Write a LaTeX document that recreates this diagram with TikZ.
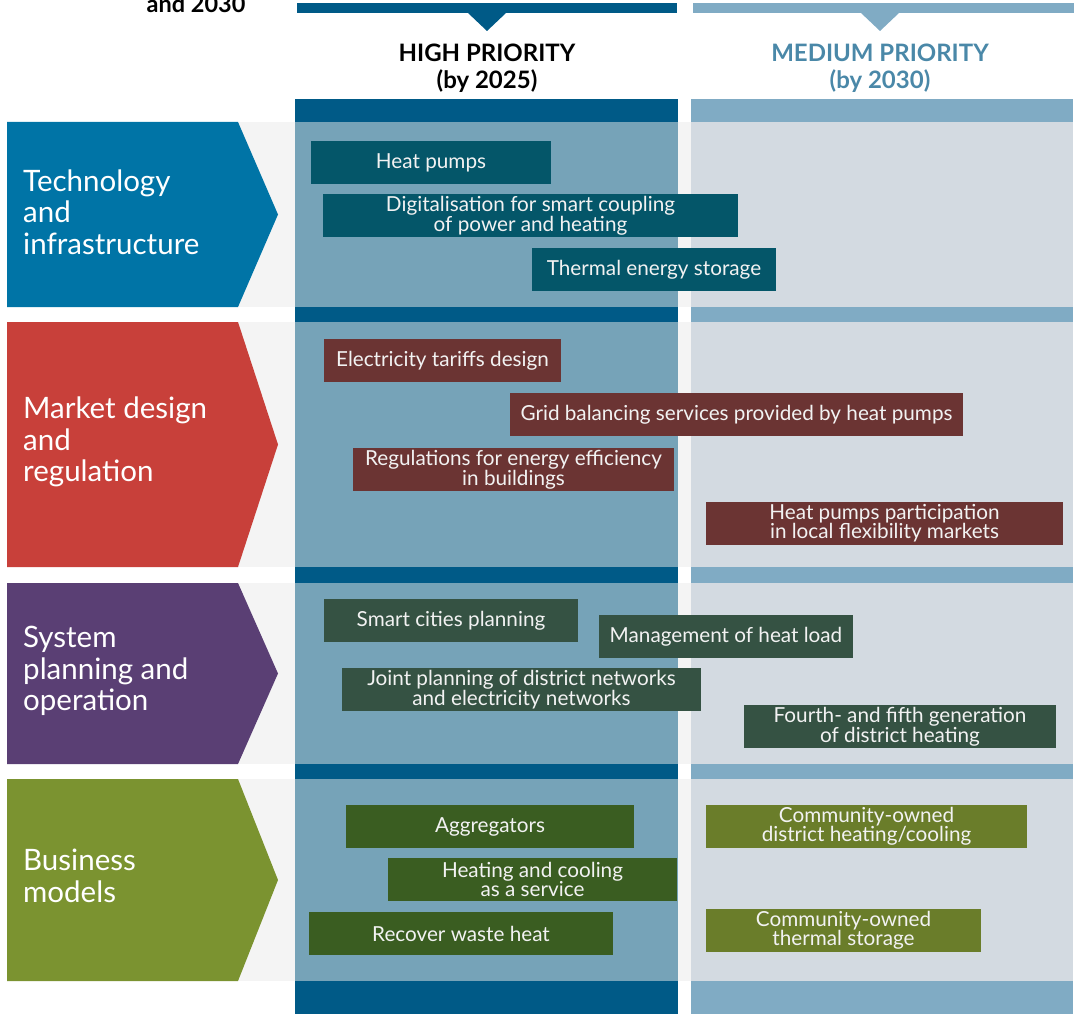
\documentclass[tikz,border=0pt]{standalone}
\usepackage{fontspec}
\setmainfont{Lato}
\usepackage{xcolor}
\usetikzlibrary{positioning}

\definecolor{techblue}{HTML}{0074A6}
\definecolor{mktred}{HTML}{C8403A}
\definecolor{syspurple}{HTML}{5A3F74}
\definecolor{busolive}{HTML}{7B9330}
\definecolor{stripgray}{HTML}{F4F4F4}
\definecolor{hicol}{HTML}{76A3B8}
\definecolor{hibar}{HTML}{005A87}
\definecolor{medcol}{HTML}{D3DAE1}
\definecolor{medbar}{HTML}{80ABC4}
\definecolor{medtext}{HTML}{4A88A8}
\definecolor{techbox}{HTML}{045669}
\definecolor{mktbox}{HTML}{6B3433}
\definecolor{sysbox}{HTML}{355243}
\definecolor{busbox}{HTML}{3A5D21}
\definecolor{busmedbox}{HTML}{6A7D2A}
\definecolor{boxtext}{HTML}{F2F2F2}

\begin{document}
\begin{tikzpicture}[x=1pt, y=-1pt,
  task/.style={rectangle, inner sep=0pt, minimum height=43pt, align=center,
    text=boxtext, font=\fontsize{20.7}{19}\selectfont},
  cat/.style={anchor=west, inner sep=0pt, align=left, text=white,
    font=\fontsize{29.5}{31.5}\selectfont},
  head/.style={inner sep=0pt, align=center, font=\fontsize{24}{27.5}\selectfont\bfseries}
]
\useasboundingbox (0,0) rectangle (1078,1014);

% Title remnant
\node[inner sep=0pt, anchor=base, font=\fontsize{23.5}{25}\selectfont\bfseries] (title) at (196,13) {and 2030};

% Column headers
\fill[hibar] (297,3) rectangle (677,13);
\fill[hibar] (468,13) -- (506,13) -- (487,31) -- cycle;
\fill[medbar] (693,3) rectangle (1074,13);
\fill[medbar] (861,13) -- (899,13) -- (880,31) -- cycle;
\coordinate (hitip) at (487,31);
\coordinate (medtip) at (880,31);
\node[head, below=12.5pt of hitip] (hihead) {HIGH PRIORITY\\(by 2025)};
\node[head, text=medtext, below=12.5pt of medtip] (medhead) {MEDIUM PRIORITY\\(by 2030)};

% Row bands
\foreach \top/\bot/\col in {122/307/techblue, 322/567/mktred, 583/764/syspurple, 779/981/busolive} {
  \fill[stripgray] (7,\top) rectangle (1073,\bot);
  \fill[hicol] (295,\top) rectangle (678,\bot);
  \fill[medcol] (691,\top) rectangle (1073,\bot);
  \fill[\col] (7,\top) -- (238,\top) -- (278,{(\top+\bot)/2}) -- (238,\bot) -- (7,\bot) -- cycle;
}

% Column bars
\foreach \top/\bot in {99/122, 307/322, 567/583, 764/779, 981/1014} {
  \fill[hibar] (295,\top) rectangle (678,\bot);
  \fill[medbar] (691,\top) rectangle (1073,\bot);
}

% Category labels
\node[cat] (tech) at (23,212) {Technology\\and\\infrastructure};
\node[cat] (mkt) at (23,442) {Market design\\and\\regulation};
\node[cat] (sys) at (23,671) {System\\planning and\\operation};
\node[cat] (bus) at (23,876) {Business\\models};

% Technology and infrastructure
\node[task, fill=techbox, minimum width=240pt] (hp) at (431,162.5) {Heat pumps};
\node[task, fill=techbox, minimum width=415pt] (digi) at (530.5,215.5) {Digitalisation for smart coupling\\of power and heating};
\node[task, fill=techbox, minimum width=244pt] (tes) at (654,269.5) {Thermal energy storage};

% Market design and regulation
\node[task, fill=mktbox, minimum width=237pt] (tariff) at (442.5,360.5) {Electricity tariffs design};
\node[task, fill=mktbox, minimum width=453pt] (grid) at (736.5,414.5) {Grid balancing services provided by heat pumps};
\node[task, fill=mktbox, minimum width=321pt] (regs) at (513.5,469.5) {Regulations for energy efficiency\\in buildings};
\node[task, fill=mktbox, minimum width=357pt] (flex) at (884.5,523.5) {Heat pumps participation\\in local flexibility markets};

% System planning and operation
\node[task, fill=sysbox, minimum width=254pt] (smart) at (451,620.5) {Smart cities planning};
\node[task, fill=sysbox, minimum width=254pt] (load) at (726,636.5) {Management of heat load};
\node[task, fill=sysbox, minimum width=359pt] (joint) at (521.5,689.5) {Joint planning of district networks\\and electricity networks};
\node[task, fill=sysbox, minimum width=312pt] (gen) at (900,726.5) {Fourth- and fifth generation\\of district heating};

% Business models
\node[task, fill=busbox, minimum width=288pt] (aggr) at (490,826.5) {Aggregators};
\node[task, fill=busbox, minimum width=289pt] (haas) at (532.5,879.5) {Heating and cooling\\as a service};
\node[task, fill=busbox, minimum width=304pt] (waste) at (461,933.5) {Recover waste heat};
\node[task, fill=busmedbox, minimum width=321pt] (cdh) at (866.5,826.5) {Community-owned\\district heating/cooling};
\node[task, fill=busmedbox, minimum width=275pt] (cts) at (843.5,930.5) {Community-owned\\thermal storage};
\end{tikzpicture}
\end{document}
